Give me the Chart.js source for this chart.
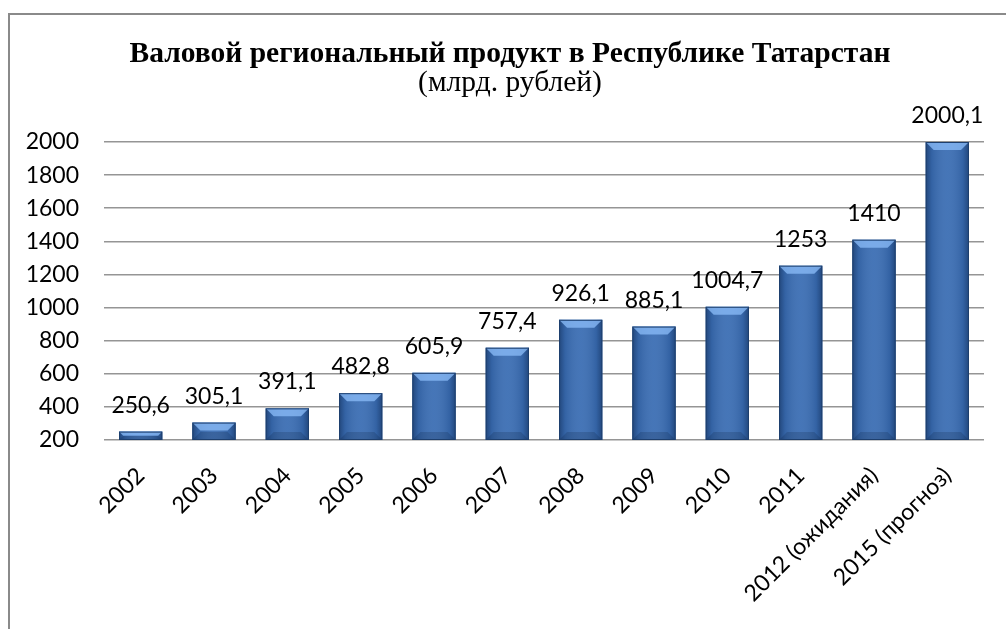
<!DOCTYPE html>
<html>
<head>
<meta charset="utf-8">
<script src="https://cdn.jsdelivr.net/npm/chart.js@4"></script>
<style>
    html, body { margin: 0; padding: 0; background: #fff; }
    #wrap { width: 1006px; height: 629px; position: relative; }
</style>
</head>
<body>
<div id="wrap"><canvas id="grpChart"></canvas></div>
<script>
const years = ["2002", "2003", "2004", "2005", "2006", "2007", "2008", "2009", "2010", "2011", "2012 (ожидания)", "2015 (прогноз)"];
const grpValues = [250.6, 305.1, 391.1, 482.8, 605.9, 757.4, 926.1, 885.1, 1004.7, 1253, 1410, 2000.1];
const yTicks = { min: 200, max: 2000, step: 200 };

const titleText = "Валовой региональный продукт в Республике Татарстан";
const subtitleText = "(млрд. рублей)";

const LABEL_FONT = "Lato, 'Open Sans', sans-serif";
const TITLE_FONT = "'Liberation Serif', serif";

// white background, frame line on the left and top, titles
const framePlugin = {
    id: "frame",
    beforeDraw(chart) {
        const ctx = chart.ctx;
        ctx.save();
        ctx.fillStyle = "#fff";
        ctx.fillRect(0, 0, chart.width, chart.height);
        ctx.strokeStyle = "#8a8a8a";
        ctx.lineWidth = 2;
        ctx.beginPath();
        ctx.moveTo(9, chart.height);
        ctx.lineTo(9, 14);
        ctx.lineTo(chart.width, 14);
        ctx.stroke();

        // titles sit a bit right of the canvas centre, like in the original
        ctx.fillStyle = "#000";
        ctx.textAlign = "center";
        ctx.textBaseline = "alphabetic";
        ctx.font = "bold 29.5px " + TITLE_FONT;
        ctx.fillText(titleText, 510, 62);
        ctx.font = "29.5px " + TITLE_FONT;
        ctx.fillText(subtitleText, 510, 91);
        ctx.restore();
    },
};

// bevel look on the bars + value labels above them
const barLookPlugin = {
    id: "barLook",
    afterDatasetsDraw(chart) {
        const ctx = chart.ctx;
        const meta = chart.getDatasetMeta(0);
        const area = chart.chartArea;

        meta.data.forEach((bar, i) => {
            const left = bar.x - bar.width / 2;
            const right = bar.x + bar.width / 2;
            const top = Math.max(bar.y, area.top);
            const bottom = Math.min(bar.base, area.bottom);
            const h = bottom - top;
            const b = Math.min(8, h / 2);

            ctx.save();

            // side shading
            const grad = ctx.createLinearGradient(left, 0, right, 0);
            grad.addColorStop(0, "rgba(15,40,80,0.55)");
            grad.addColorStop(0.14, "rgba(15,40,80,0.15)");
            grad.addColorStop(0.5, "rgba(255,255,255,0.06)");
            grad.addColorStop(0.86, "rgba(15,40,80,0.15)");
            grad.addColorStop(1, "rgba(15,40,80,0.55)");
            ctx.fillStyle = grad;
            ctx.fillRect(left, top, right - left, h);

            // top bevel
            ctx.fillStyle = "rgba(140,190,250,0.75)";
            ctx.beginPath();
            ctx.moveTo(left, top);
            ctx.lineTo(right, top);
            ctx.lineTo(right - b, top + b);
            ctx.lineTo(left + b, top + b);
            ctx.closePath();
            ctx.fill();

            // bottom bevel
            ctx.fillStyle = "rgba(10,30,60,0.2)";
            ctx.beginPath();
            ctx.moveTo(left, bottom);
            ctx.lineTo(right, bottom);
            ctx.lineTo(right - b, bottom - b);
            ctx.lineTo(left + b, bottom - b);
            ctx.closePath();
            ctx.fill();

            ctx.strokeStyle = "#1d3f6e";
            ctx.lineWidth = 1;
            ctx.strokeRect(left + 0.5, top + 0.5, right - left - 1, h - 1);

            // value label
            ctx.fillStyle = "#000";
            ctx.font = "23px " + LABEL_FONT;
            ctx.textAlign = "center";
            ctx.textBaseline = "alphabetic";
            ctx.fillText(String(grpValues[i]).replace(".", ","), bar.x, top - 19);

            ctx.restore();
        });
    },
};

new Chart(document.getElementById("grpChart"), {
    type: "bar",

    data: {
        labels: years,

        datasets: [
            {
                data: grpValues,

                backgroundColor: "#3a6db3",

                borderWidth: 0,

                categoryPercentage: 1,

                barPercentage: 0.59,
            },
        ],
    },

    options: {
        responsive: true,

        maintainAspectRatio: false,

        animation: false,

        layout: {
            padding: { top: 142, right: 22, bottom: 0, left: 0 },
        },

        plugins: {
            legend: { display: false },

            tooltip: { enabled: false },

            title: { display: false },
        },

        scales: {
            x: {
                grid: { display: false },

                border: { display: false },

                ticks: {
                    color: "#000",
                    font: { family: LABEL_FONT, size: 23 },
                    maxRotation: 45,
                    minRotation: 45,
                    autoSkip: false,
                    padding: 14,
                },

                afterFit(scale) {
                    scale.height = 189;
                },
            },

            y: {
                min: yTicks.min,

                max: yTicks.max,

                border: { display: false },

                grid: {
                    color: "#959595",
                    lineWidth: 1.5,
                    drawTicks: false,
                },

                ticks: {
                    stepSize: yTicks.step,
                    color: "#000",
                    font: { family: LABEL_FONT, size: 23 },
                    padding: 25,
                    callback: (v) => String(v),
                },

                afterFit(scale) {
                    scale.width = 104;
                },
            },
        },
    },

    plugins: [framePlugin, barLookPlugin],
});
</script>
</body>
</html>
